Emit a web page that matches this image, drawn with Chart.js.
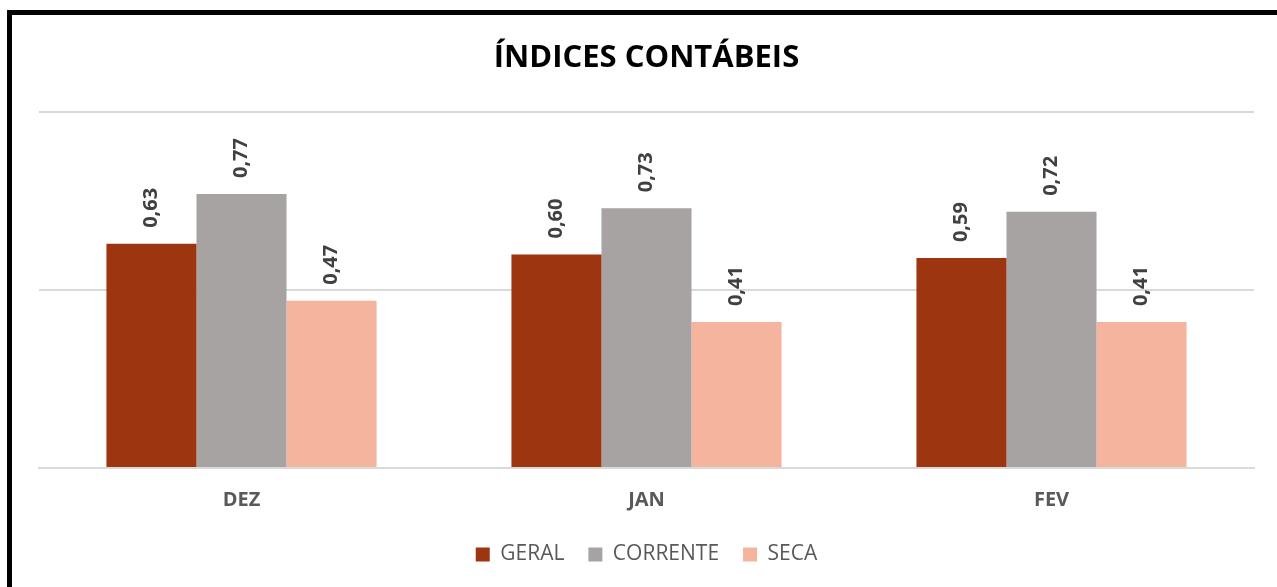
<!DOCTYPE html>
<html>
<head>
<meta charset="utf-8">
<script src="https://cdn.jsdelivr.net/npm/chart.js@4"></script>
<style>
  html, body { margin: 0; padding: 0; background: #fff; overflow: hidden; }
  #wrap { position: relative; width: 1277px; height: 587px; }
  #frame { position: absolute; left: 7px; top: 10px; width: 1300px; height: 620px; border: 5px solid #000; box-sizing: border-box; pointer-events: none; }
  canvas { position: absolute; left: 0; top: 0; }
</style>
</head>
<body>
<div id="wrap">
  <canvas id="chart1" width="1277" height="587"></canvas>
  <div id="frame"></div>
</div>
<script>
const months = ["DEZ", "JAN", "FEV"];
const geral = [0.63, 0.60, 0.59];
const corrente = [0.77, 0.73, 0.72];
const seca = [0.47, 0.41, 0.41];

// rotated value labels above each bar
const barLabels = {
  id: "barLabels",
  afterDatasetsDraw(chart) {
    const ctx = chart.ctx;
    ctx.save();
    ctx.font = "bold 20px 'Open Sans', sans-serif";
    ctx.fillStyle = "#404040";
    ctx.textAlign = "left";
    ctx.textBaseline = "middle";
    chart.data.datasets.forEach((ds, i) => {
      chart.getDatasetMeta(i).data.forEach((bar, j) => {
        const txt = ds.data[j].toFixed(2).replace(".", ",");
        ctx.save();
        ctx.translate(bar.x, bar.y - 16);
        ctx.rotate(-Math.PI / 2);
        ctx.fillText(txt, 0, 0);
        ctx.restore();
      });
    });
    ctx.restore();
  }
};

const config1 = {
  type: "bar",
  data: {
    labels: months,
    datasets: [
      { label: "GERAL", data: geral, backgroundColor: "#9E3511" },
      { label: "CORRENTE", data: corrente, backgroundColor: "#A6A3A2" },
      { label: "SECA", data: seca, backgroundColor: "#F4B49E" },
    ],
  },
  options: {
    responsive: false,
    animation: false,
    layout: { padding: { left: 39, right: 23, top: 40, bottom: 12 } },
    datasets: { bar: { barPercentage: 1, categoryPercentage: 0.667 } },
    plugins: {
      title: {
        display: true,
        text: "ÍNDICES CONTÁBEIS",
        color: "#000",
        font: { family: "'Open Sans', sans-serif", size: 31, weight: "bold" },
        padding: { top: 0, bottom: 35 },
      },
      legend: {
        position: "bottom",
        labels: {
          color: "#595959",
          font: { family: "'Open Sans', sans-serif", size: 21 },
          boxWidth: 14,
          boxHeight: 14,
          padding: 24,
        },
      },
      tooltip: { enabled: false },
    },
    scales: {
      x: {
        grid: { display: false },
        border: { color: "#d9d9d9", width: 2 },
        ticks: {
          color: "#595959",
          font: { family: "'Open Sans', sans-serif", size: 20, weight: "bold" },
          padding: 12,
        },
        afterFit(scale) { scale.height -= 4; },
      },
      y: {
        min: 0,
        max: 1,
        ticks: { display: false, stepSize: 0.5 },
        grid: { color: "#d9d9d9", lineWidth: 2, drawTicks: false },
        border: { display: false },
      },
    },
  },
  plugins: [barLabels],
};
const myChart = new Chart(document.getElementById("chart1"), config1);
</script>
</body>
</html>
